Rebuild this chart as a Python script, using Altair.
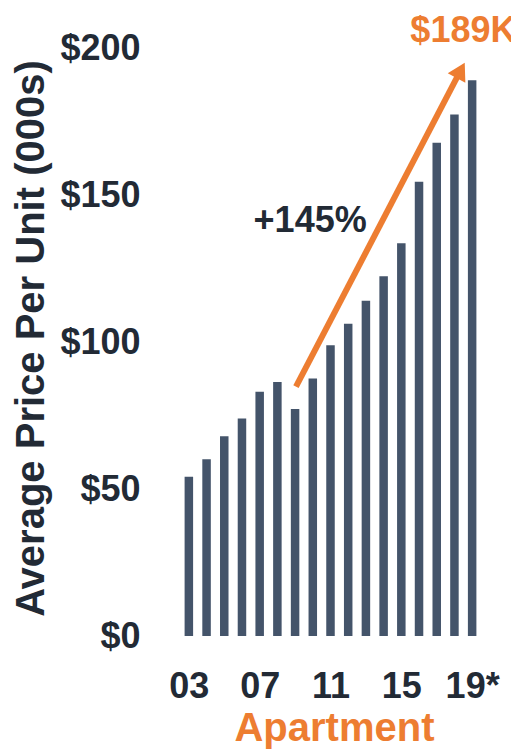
import altair as alt
import pandas as pd

years = list(range(2003, 2020))
prices = [54.2, 60.1, 67.9, 74.0, 83.1, 86.4, 77.2, 87.6, 98.9, 106.2,
          114.0, 122.4, 133.6, 154.5, 167.8, 177.4, 189.0]
tick_years = [2003, 2007, 2011, 2015, 2019]
tick_labels = ["03", "07", "11", "15", "19*"]
y_ticks = [0, 50, 100, 150, 200]

arrow_x = [2009.05, 2018.35]
arrow_y = [84.8, 192.4]
growth_label = "+145%"
growth_pos = (2009.85, 137.5)
end_label = "$189K"
end_pos = (2015.51, 202.0)

FONT = "Liberation Sans"
DARK = "#222A35"
BAR = "#44546A"
ORANGE = "#ED7D31"

df = pd.DataFrame({"year": years, "price": prices})
arrow_df = pd.DataFrame({"x": arrow_x, "y": arrow_y, "o": [0, 1]})
head_df = pd.DataFrame({"x": [arrow_x[1]], "y": [arrow_y[1]]})
growth_df = pd.DataFrame({"x": [growth_pos[0]], "y": [growth_pos[1]], "t": [growth_label]})
end_df = pd.DataFrame({"x": [end_pos[0]], "y": [end_pos[1]], "t": [end_label]})

expr = "''"
for yv, lab in reversed(list(zip(tick_years, tick_labels))):
    expr = f"datum.value == {yv} ? '{lab}' : ({expr})"

xscale = alt.Scale(domain=[2002.5, 2019.5], nice=False, zero=False)
yscale = alt.Scale(domain=[0, 200], nice=False)

x_axis = alt.Axis(
    values=tick_years, labelExpr=expr, grid=False, domain=False, ticks=False,
    labelFont=FONT, labelFontSize=36, labelFontWeight="bold", labelColor=DARK,
    labelPadding=33, labelBaseline="top",
    title="Apartment", titleFont=FONT, titleFontSize=40, titleFontWeight="bold",
    titleColor=ORANGE, titleX=159, titleY=104, titleBaseline="alphabetic",
    titleAlign="center",
)
y_axis = alt.Axis(
    values=y_ticks, format="$.0f", grid=False, domain=False, ticks=False,
    labelFont=FONT, labelFontSize=36, labelFontWeight="bold", labelColor=DARK,
    labelPadding=35,
    title="Average Price Per Unit (000s)", titleFont=FONT, titleFontSize=40,
    titleFontWeight="bold", titleColor=DARK, titleAngle=270, titleX=-132,
    titleY=290, titleAlign="center", titleBaseline="alphabetic",
)

bars = alt.Chart(df).mark_bar(size=8.5, color=BAR).encode(
    x=alt.X("year:Q", scale=xscale, axis=x_axis),
    y=alt.Y("price:Q", scale=yscale, axis=y_axis),
)

line = alt.Chart(arrow_df).mark_line(color=ORANGE, strokeWidth=6, strokeCap="butt").encode(
    x=alt.X("x:Q", scale=xscale),
    y=alt.Y("y:Q", scale=yscale),
    order="o:Q",
)

head = alt.Chart(head_df).mark_point(
    shape="triangle-up", filled=True, color=ORANGE, opacity=1, size=400, angle=28.3
).encode(
    x=alt.X("x:Q", scale=xscale),
    y=alt.Y("y:Q", scale=yscale),
)

growth = alt.Chart(growth_df).mark_text(
    font=FONT, fontSize=36, fontWeight="bold", color=DARK, align="center",
    baseline="alphabetic"
).encode(
    x=alt.X("x:Q", scale=xscale),
    y=alt.Y("y:Q", scale=yscale),
    text="t:N",
)

endt = alt.Chart(end_df).mark_text(
    font=FONT, fontSize=36, fontWeight="bold", color=ORANGE, align="left",
    baseline="alphabetic"
).encode(
    x=alt.X("x:Q", scale=xscale),
    y=alt.Y("y:Q", scale=yscale),
    text="t:N",
)

chart = alt.layer(bars, line, head, growth, endt).properties(
    width=311, height=588,
    autosize=alt.AutoSizeParams(type="none"),
    padding={"left": 175, "top": 48, "right": 25, "bottom": 116},
).configure(background="white").configure_view(strokeOpacity=0, strokeWidth=0)

chart.save("out.html", embed_options={"renderer": "svg", "actions": False})
